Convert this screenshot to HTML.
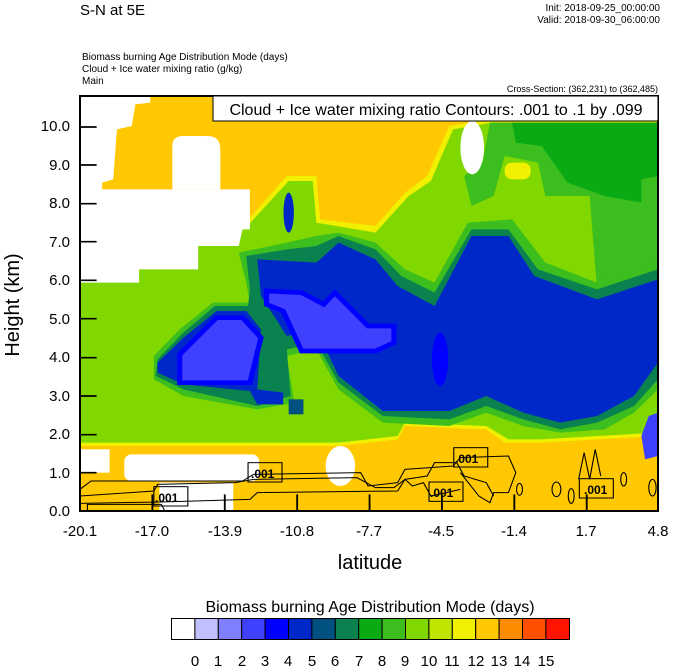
<!DOCTYPE html>
<html><head><meta charset="utf-8"><style>
html,body{margin:0;padding:0;background:#fff;}
svg{display:block;font-family:"Liberation Sans",sans-serif;}
</style></head><body>
<svg width="674" height="668" viewBox="0 0 674 668" xmlns="http://www.w3.org/2000/svg">
<text x="80" y="15" font-size="15">S-N at 5E</text>
<text x="660" y="11" font-size="10" text-anchor="end">Init: 2018-09-25_00:00:00</text>
<text x="660" y="23" font-size="10" text-anchor="end">Valid: 2018-09-30_06:00:00</text>
<text x="82" y="60" font-size="10">Biomass burning Age Distribution Mode   (days)</text>
<text x="82" y="72" font-size="10">Cloud + Ice water mixing ratio   (g/kg)</text>
<text x="82" y="84" font-size="10">Main</text>
<text x="658" y="92" font-size="9" text-anchor="end">Cross-Section: (362,231) to (362,485)</text>

<svg x="80" y="96" width="578" height="415" viewBox="0 0 1565 1245" preserveAspectRatio="none">
<rect x="0" y="0" width="1565" height="1245" fill="#FFC800"/>
<path d="M0,550 L440,390 L560,240 L640,240 L650,370 L800,390 L880,290 L940,240 L1000,90 L1110,70 L1565,70 L1565,1020 L1400,1030 L1250,1040 L1150,1040 L1100,1000 L880,990 L860,1030 L700,1050 L0,1050Z" fill="#F0F000"/>
<path d="M0,560 L445,400 L565,255 L630,255 L640,380 L800,410 L890,300 L950,255 L1010,100 L1115,80 L1565,80 L1565,1010 L1400,1020 L1250,1030 L1160,1030 L1100,990 L880,980 L860,1020 L700,1040 L0,1040Z" fill="#80D800"/>
<path d="M1110,80 L1565,80 L1565,540 L1400,580 L1380,300 L1260,300 L1240,200 L1150,180 L1120,300 L1060,330 L1040,240 L1090,200Z" fill="#3CBE1E"/>
<path d="M1170,80 L1565,80 L1565,240 L1520,250 L1520,320 L1420,300 L1320,260 L1250,150 L1180,140Z" fill="#0AAA14"/>
<rect x="1150" y="200" width="70" height="50" fill="#F0F000" rx="20"/>
<path d="M430,470 L560,440 L640,420 L700,410 L800,440 L880,520 L960,560 L1050,380 L1170,370 L1260,500 L1400,560 L1565,500 L1565,880 L1500,950 L1420,1000 L1300,1010 L1200,990 L1100,950 L1000,990 L820,980 L700,880 L640,760 L560,780 L580,920 L480,940 L280,900 L200,850 L200,780 L270,700 L360,620 L460,620 L450,560Z" fill="#3CBE1E"/>
<path d="M450,480 L560,460 L640,450 L700,420 L800,460 L870,540 L960,590 L1060,400 L1160,400 L1240,520 L1400,580 L1565,520 L1565,850 L1500,930 L1400,980 L1300,1000 L1200,970 L1100,930 L1000,970 L820,960 L700,860 L640,740 L560,760 L570,900 L480,930 L280,880 L205,840 L210,790 L280,710 L365,630 L455,630 L460,580Z" fill="#0A8250"/>
<path d="M480,490 L640,500 L700,440 L800,490 L860,570 L960,630 L1060,420 L1160,420 L1230,540 L1400,610 L1565,550 L1565,800 L1500,900 L1400,960 L1300,980 L1200,950 L1100,900 L1000,945 L820,945 L700,840 L640,700 L560,720 L490,600Z" fill="#0028C8"/>
<path d="M210,800 L280,725 L370,645 L450,645 L490,700 L480,880 L550,890 L550,925 L480,925 L460,885 L280,865 L210,830Z" fill="#0028C8"/>
<rect x="565" y="910" width="40" height="45" fill="#005080"/>
<ellipse cx="565" cy="350" rx="14" ry="60" fill="#0028C8"/>
<ellipse cx="975" cy="790" rx="22" ry="80" fill="#0000FF"/>
<path d="M270,775 L370,665 L440,665 L490,725 L460,860 L270,860Z" fill="#4040FF" stroke="#0000FF" stroke-width="14"/>
<path d="M505,585 L600,590 L660,625 L690,590 L780,690 L850,690 L850,740 L800,765 L700,765 L600,765 L550,645 L505,625Z" fill="#4040FF" stroke="#0000FF" stroke-width="14"/>
<path d="M1540,960 L1565,950 L1565,1080 L1530,1090 L1520,1020Z" fill="#4040FF"/>
<path d="M0,0 L190,0 L190,20 L150,25 L140,90 L100,100 L90,250 L60,260 L60,280 L460,280 L460,400 L440,400 L430,450 L320,450 L320,520 L160,520 L160,560 L0,560Z" fill="#fff"/>
<path d="M250,150 Q250,120 280,120 L345,120 Q380,120 380,160 L380,280 L250,280Z" fill="#fff"/>
<ellipse cx="1062" cy="155" rx="32" ry="80" fill="#fff"/>
<rect x="0" y="1060" width="80" height="70" fill="#fff"/>
<rect x="120" y="1075" width="365" height="80" rx="20" fill="#fff"/>
<rect x="215" y="1160" width="200" height="85" fill="#fff"/>
<ellipse cx="705" cy="1110" rx="40" ry="60" fill="#fff"/>
<g fill="none" stroke="#000" stroke-width="3">
<path d="M0,1180 L30,1155 L440,1155 L470,1135 L760,1130 L780,1170 L860,1160 L880,1120 L1010,1110 L1030,1085 L1160,1080 L1180,1130 L1160,1190 L1120,1190 L1110,1220 L1080,1200 L1030,1130"/>
<path d="M0,1200 L200,1185 L210,1165 L420,1160 L470,1150 L750,1145 L800,1175 L850,1175 L880,1150 L940,1140 L960,1100 L1020,1100 L1040,1140 L1100,1160 L1120,1200"/>
<path d="M0,1222 L220,1218 L460,1210 L480,1190 L860,1185 L880,1150 L900,1170 L930,1160 L950,1200 L1030,1180"/>
<path d="M20,1245 L20,1225 L220,1225 L230,1245"/>
<ellipse cx="1190" cy="1180" rx="8" ry="18"/>
<ellipse cx="1290" cy="1180" rx="12" ry="22"/>
<ellipse cx="1330" cy="1200" rx="8" ry="22"/>
<path d="M1350,1150 L1365,1070 L1380,1150 L1395,1060 L1410,1140"/>
<ellipse cx="1472" cy="1150" rx="8" ry="20"/>
<ellipse cx="1550" cy="1175" rx="10" ry="25"/>
</g>
<g stroke="#000" stroke-width="3" fill="none">
<rect x="455" y="1100" width="92" height="58"/>
<rect x="200" y="1172" width="92" height="58"/>
<rect x="1012" y="1055" width="92" height="58"/>
<rect x="945" y="1158" width="92" height="58"/>
<rect x="1352" y="1148" width="92" height="58"/>
</g>
<g stroke="#000" stroke-width="5">
<path d="M0,93h45M0,207h45M0,323h45M0,437h45M0,553h45M0,668h45M0,785h45M0,900h45M0,1016h45M0,1130h45"/>
<path d="M196,1245v-50M392,1245v-50M588,1245v-50M784,1245v-50M980,1245v-50M1176,1245v-50M1372,1245v-50"/>
</g>
</svg>
<g font-size="12" font-weight="bold" font-family="Liberation Sans, sans-serif">
<text x="251" y="478">.001</text>
<text x="155" y="502">.001</text>
<text x="455" y="463">.001</text>
<text x="430" y="497">.001</text>
<text x="584" y="494">.001</text>
</g>
<rect x="80" y="96" width="578" height="415" fill="none" stroke="#000" stroke-width="2"/>
<rect x="213" y="96" width="445" height="25" fill="#fff" stroke="#000" stroke-width="1"/>
<text x="436" y="115" font-size="16" text-anchor="middle">Cloud + Ice water mixing ratio Contours: .001 to .1 by .099</text>

<g font-size="15" text-anchor="end">
<text x="70" y="516">0.0</text><text x="70" y="478">1.0</text><text x="70" y="439">2.0</text><text x="70" y="401">3.0</text><text x="70" y="362">4.0</text><text x="70" y="324">5.0</text><text x="70" y="285">6.0</text><text x="70" y="247">7.0</text><text x="70" y="208">8.0</text><text x="70" y="170">9.0</text><text x="70" y="131">10.0</text>
</g>
<text transform="translate(19,305) rotate(-90)" font-size="20" text-anchor="middle">Height (km)</text>
<g font-size="15" text-anchor="middle">
<text x="80" y="536">-20.1</text><text x="152" y="536">-17.0</text><text x="225" y="536">-13.9</text><text x="297" y="536">-10.8</text><text x="369" y="536">-7.7</text><text x="441" y="536">-4.5</text><text x="514" y="536">-1.4</text><text x="586" y="536">1.7</text><text x="658" y="536">4.8</text>
</g>
<text x="370" y="569" font-size="20" text-anchor="middle">latitude</text>
<text x="370" y="612" font-size="16" text-anchor="middle">Biomass burning Age Distribution Mode  (days)</text>
<g stroke="#000" stroke-width="1">
<rect x="171.5" y="618.5" width="23.4" height="21" fill="#FFFFFF"/>
<rect x="194.9" y="618.5" width="23.4" height="21" fill="#C0C0FF"/>
<rect x="218.3" y="618.5" width="23.4" height="21" fill="#8080FF"/>
<rect x="241.7" y="618.5" width="23.4" height="21" fill="#4040FF"/>
<rect x="265.1" y="618.5" width="23.4" height="21" fill="#0000FF"/>
<rect x="288.5" y="618.5" width="23.4" height="21" fill="#0028C8"/>
<rect x="311.9" y="618.5" width="23.4" height="21" fill="#005080"/>
<rect x="335.3" y="618.5" width="23.4" height="21" fill="#0A8250"/>
<rect x="358.7" y="618.5" width="23.4" height="21" fill="#0AAA14"/>
<rect x="382.1" y="618.5" width="23.4" height="21" fill="#3CBE1E"/>
<rect x="405.5" y="618.5" width="23.4" height="21" fill="#80D800"/>
<rect x="428.9" y="618.5" width="23.4" height="21" fill="#BEE600"/>
<rect x="452.3" y="618.5" width="23.4" height="21" fill="#F0F000"/>
<rect x="475.7" y="618.5" width="23.4" height="21" fill="#FFC800"/>
<rect x="499.1" y="618.5" width="23.4" height="21" fill="#FF8C00"/>
<rect x="522.5" y="618.5" width="23.4" height="21" fill="#FF5000"/>
<rect x="545.9" y="618.5" width="23.6" height="21" fill="#FF1400"/>
</g>
<g font-size="15" text-anchor="middle">
<text x="195" y="666">0</text><text x="218" y="666">1</text><text x="242" y="666">2</text><text x="265" y="666">3</text><text x="288" y="666">4</text><text x="312" y="666">5</text><text x="335" y="666">6</text><text x="359" y="666">7</text><text x="382" y="666">8</text><text x="405" y="666">9</text><text x="429" y="666">10</text><text x="452" y="666">11</text><text x="476" y="666">12</text><text x="499" y="666">13</text><text x="522" y="666">14</text><text x="546" y="666">15</text>
</g>
</svg>
</body></html>
